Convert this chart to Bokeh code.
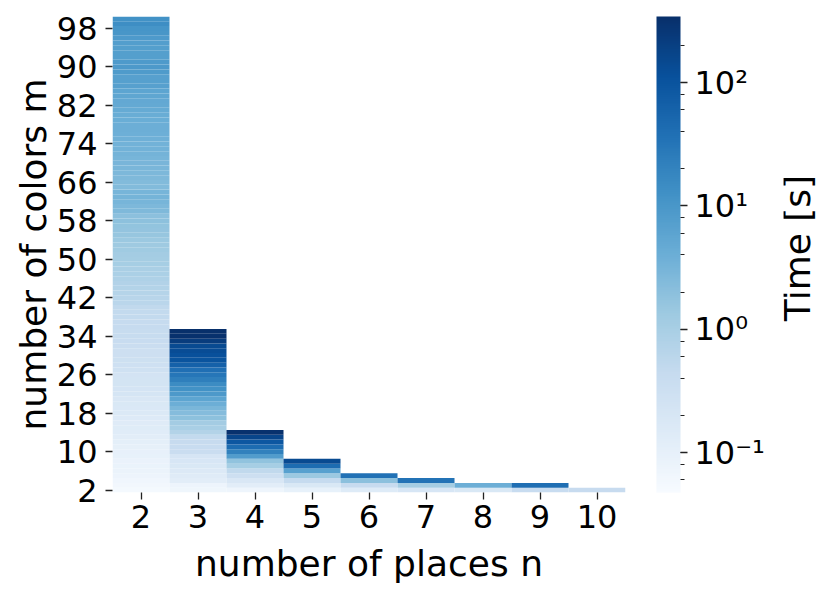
import math
from bokeh.plotting import figure
from bokeh.layouts import row
from bokeh.models import (ColumnDataSource, LogColorMapper, ColorBar, LogTicker,
                          FixedTicker, CustomJSTickFormatter, Label, Range1d)
from bokeh.palettes import Blues256
from bokeh.transform import log_cmap
from bokeh.embed import file_html
from bokeh.resources import INLINE

# ---- data: solve time [s] per (places n, colors m), m starts at 2 ----
places = [2, 3, 4, 5, 6, 7, 8, 9, 10]
time_n2 = [0.055, 0.062, 0.066, 0.075, 0.080, 0.083, 0.088, 0.095, 0.10, 0.105,
           0.11, 0.125, 0.13, 0.135, 0.14, 0.15, 0.17, 0.175, 0.18, 0.19,
           0.22, 0.23, 0.235, 0.24, 0.25, 0.29, 0.30, 0.31, 0.32, 0.33,
           0.38, 0.40, 0.41, 0.42, 0.44, 0.45, 0.47, 0.48, 0.52, 0.60,
           0.65, 0.70, 0.74, 0.78, 0.86, 0.92, 0.96, 1.05, 1.10, 1.15,
           1.25, 1.32, 1.40, 1.55, 1.65, 1.72, 1.9, 2.0, 2.6, 2.7,
           3.1, 3.2, 3.1, 2.4, 2.4, 2.6, 2.7, 2.9, 3.0, 3.1,
           3.3, 3.4, 3.5, 3.7, 3.8, 3.9, 4.0, 4.1, 4.2, 4.6,
           4.8, 5.0, 5.6, 5.9, 6.9, 7.2, 7.0, 8.6, 9.2, 8.8,
           7.5, 7.4, 7.3, 7.6, 8.8, 10.5, 11.0, 14.0, 12.0]
time_n3 = [0.068, 0.075, 0.125, 0.14, 0.165, 0.18, 0.20, 0.215, 0.37, 0.40,
           0.43, 0.48, 0.75, 1.0, 1.15, 1.9, 2.3, 2.9, 4.0, 5.8,
           9.0, 12.0, 15.0, 23.0, 31.0, 39.0, 63.0, 99.0, 113.0, 130.0,
           142.0, 221.0, 320.0, 340.0]
time_n4 = [0.071, 0.125, 0.19, 0.32, 0.52, 1.07, 1.8, 8.2, 22.0, 44.0,
           91.0, 170.0, 330.0]
time_n5 = [0.097, 0.18, 0.44, 1.4, 6.7, 44.0, 140.0]
time_n6 = [0.144, 0.437, 2.0, 37.0]
time_n7 = [0.20, 1.1, 34.0]
time_n8 = [0.18, 4.0]
time_n9 = [0.40, 40.0]
time_n10 = [0.437]
series = [time_n2, time_n3, time_n4, time_n5, time_n6, time_n7, time_n8, time_n9, time_n10]
y_ticks = [2, 10, 18, 26, 34, 42, 50, 58, 66, 74, 82, 90, 98]
cbar_low, cbar_high = 0.0474, 343.0
cbar_title = "Time [s]"

xs, ys, ts = [], [], []
for n, vals in zip(places, series):
    for i, v in enumerate(vals):
        xs.append(n)
        ys.append(2 + i)
        ts.append(v)
src = ColumnDataSource(dict(n=xs, m=ys, t=ts))

FONT = "DejaVu Sans"
palette = list(reversed(Blues256))

p = figure(width=783, height=590, x_range=(1.5, 10.5), y_range=(1.5, 100.5),
           output_backend="svg", toolbar_location=None,
           min_border_left=112, min_border_top=16, min_border_bottom=98, min_border_right=158)
p.rect(x="n", y="m", width=1, height=1, source=src,
       fill_color=log_cmap("t", palette, cbar_low, cbar_high), line_color=None)

p.xgrid.visible = False
p.ygrid.visible = False
p.outline_line_color = None
p.background_fill_color = "white"

for ax in (p.xaxis[0], p.yaxis[0]):
    ax.axis_line_color = None
    ax.minor_tick_line_color = None
    ax.major_tick_in = 0
    ax.major_tick_out = 7
    ax.major_tick_line_color = "#222222"
    ax.major_tick_line_width = 1.3
    ax.major_label_text_font = FONT
    ax.major_label_text_font_size = "32px"
    ax.major_label_text_color = "black"
    ax.axis_label_text_font = FONT
    ax.axis_label_text_font_size = "36px"
    ax.axis_label_text_font_style = "normal"
    ax.axis_label_text_color = "black"

p.xaxis.major_label_standoff = 5
p.xaxis.axis_label_standoff = 12
p.yaxis.major_label_standoff = 8
p.yaxis.axis_label_standoff = 0

p.xaxis.ticker = FixedTicker(ticks=places)
p.yaxis.ticker = FixedTicker(ticks=y_ticks)
p.xaxis.axis_label = "number of places n"
p.yaxis.axis_label = "number of colors m"

mapper = LogColorMapper(palette=palette, low=cbar_low, high=cbar_high)
fmt = CustomJSTickFormatter(code="""
const e = Math.round(Math.log10(tick));
const sup = {'-':'\u207b','0':'\u2070','1':'\u00b9','2':'\u00b2','3':'\u00b3','4':'\u2074',
             '5':'\u2075','6':'\u2076','7':'\u2077','8':'\u2078','9':'\u2079'};
return '10' + String(e).split('').map(c => sup[c]).join('');
""")
cb = ColorBar(color_mapper=mapper, ticker=LogTicker(), formatter=fmt,
              width=24, height=476, padding=0, margin=0,
              location=(31, 0), bar_line_color=None,
              major_tick_in=0, major_tick_out=7, major_tick_line_color="#222222",
              major_tick_line_width=1.3,
              minor_tick_in=0, minor_tick_out=4, minor_tick_line_color="#222222",
              minor_tick_line_width=1,
              major_label_text_font=FONT, major_label_text_font_size="32px",
              major_label_text_color="black", label_standoff=7,
              background_fill_color=None, border_line_color=None)
p.add_layout(cb, "right")

# narrow companion figure holding the colour-bar label (reads bottom-to-top)
p2 = figure(width=45, height=590, x_range=Range1d(0, 45), y_range=Range1d(590, 0),
            output_backend="svg", toolbar_location=None,
            x_axis_location=None, y_axis_location=None,
            min_border=0, min_border_left=0, min_border_right=0,
            min_border_top=0, min_border_bottom=0)
p2.grid.visible = False
p2.outline_line_color = None
p2.add_layout(Label(x=13.5, y=287, text=cbar_title, angle=math.pi / 2,
                    text_align="center", text_baseline="middle",
                    text_font=FONT, text_font_size="36px", text_color="black"))

open("out.html", "w").write(file_html(row(p, p2), INLINE))
